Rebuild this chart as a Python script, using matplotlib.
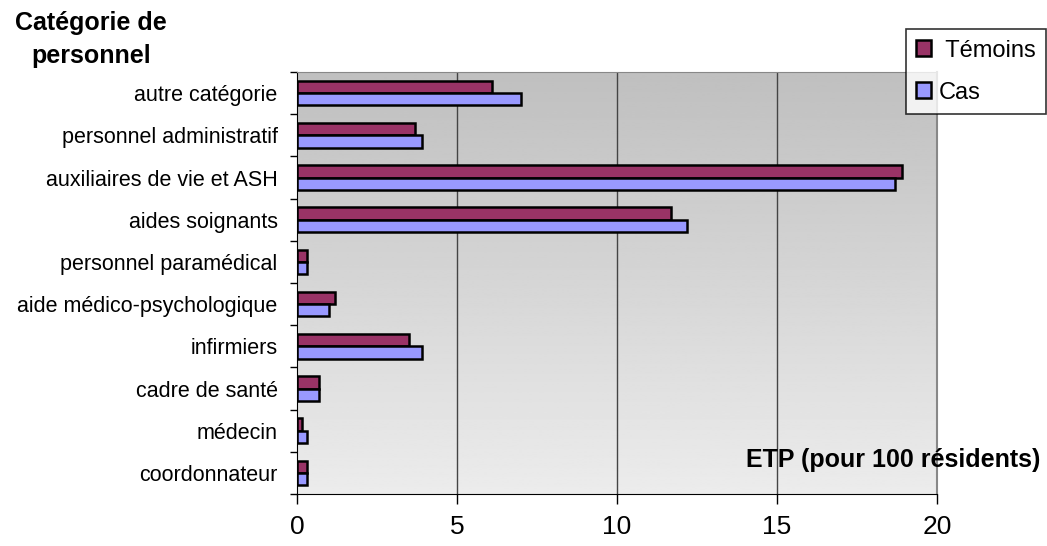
import numpy as np
import matplotlib.pyplot as plt

plt.rcParams['font.family'] = ['Liberation Sans', 'DejaVu Sans']

categories = ['autre catégorie', 'personnel administratif', 'auxiliaires de vie et ASH',
              'aides soignants', 'personnel paramédical', 'aide médico-psychologique',
              'infirmiers', 'cadre de santé', 'médecin', 'coordonnateur']
temoins = [6.1, 3.7, 18.9, 11.7, 0.3, 1.2, 3.5, 0.7, 0.15, 0.3]
cas = [7.0, 3.9, 18.7, 12.2, 0.3, 1.0, 3.9, 0.7, 0.3, 0.3]
xticks = [0, 5, 10, 15, 20]


def main():
    fig = plt.figure(figsize=(10.47, 5.46), dpi=100)
    ax = fig.add_axes([0.2837, 0.0952, 0.6113, 0.7729])

    n = len(categories)
    ax.set_xlim(0, 20)
    ax.set_ylim(n, 0)

    # grey gradient background, darker at the top
    grad = np.linspace(0.75, 0.925, 256).reshape(-1, 1)
    ax.imshow(grad, cmap='gray', vmin=0, vmax=1, aspect='auto',
              extent=[0, 20, n, 0], zorder=0)

    for x in xticks[1:-1]:
        ax.axvline(x, color='#444444', lw=1, zorder=1)

    pos = np.arange(n) + 0.5
    h = 0.29
    ax.barh(pos - h / 2, temoins, height=h, color='#993366', edgecolor='black',
            lw=1.8, label=' Témoins', zorder=2)
    ax.barh(pos + h / 2, cas, height=h, color='#9999ff', edgecolor='black',
            lw=1.8, label='Cas', zorder=2)

    ax.set_xticks(xticks)
    ax.set_xticklabels([str(x) for x in xticks], fontsize=19)
    ax.tick_params(axis='x', length=7, width=1, pad=8, direction='out')

    ax.set_yticks(np.arange(n + 1))
    ax.set_yticklabels([])
    ax.set_yticks(pos, minor=True)
    ax.set_yticklabels(categories, minor=True, fontsize=15.5)
    ax.tick_params(axis='y', which='major', length=5, width=1, direction='out')
    ax.tick_params(axis='y', which='minor', length=0, pad=14)

    ax.spines['left'].set_color('black')
    ax.spines['bottom'].set_color('black')
    ax.spines['top'].set_color('#888888')
    ax.spines['right'].set_color('#888888')
    ax.spines['right'].set_linewidth(1.5)

    fig.text(0.087, 0.928, 'Catégorie de\npersonnel', fontsize=18, fontweight='bold',
             ha='center', va='center', linespacing=1.45)
    fig.text(0.994, 0.158, 'ETP (pour 100 résidents)', fontsize=18,
             fontweight='bold', ha='right', va='center')

    leg = fig.legend(loc='upper right', bbox_to_anchor=(0.999, 0.947),
                     fontsize=17, frameon=True, fancybox=False,
                     edgecolor='black', handlelength=0.65, handleheight=0.65,
                     handletextpad=0.3, borderpad=0.45, labelspacing=0.85,
                     borderaxespad=0)
    leg.get_frame().set_linewidth(1.2)

    fig.savefig('out.png')


main()
